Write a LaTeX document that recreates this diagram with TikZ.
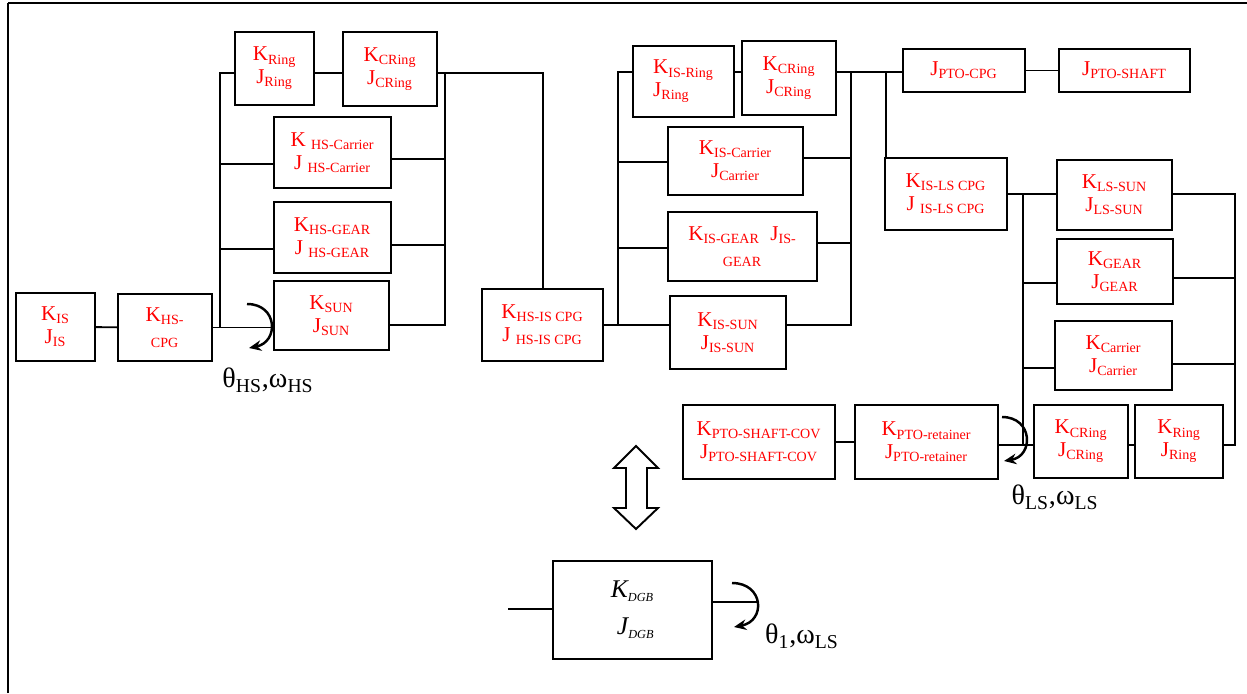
\documentclass[tikz,border=0pt]{standalone}
\usepackage{fontspec}
\setmainfont{Liberation Serif}
\usetikzlibrary{arrows.meta, calc}

\begin{document}
\begin{tikzpicture}[
    x=0.02cm, y=-0.02cm,
    blk/.style 2 args={rectangle, draw=black, line width=1.1pt, text=red,
                minimum width=#1*0.02cm, minimum height=#2*0.02cm, inner sep=0pt,
                align=center, font=\fontsize{12}{13}\selectfont},
    link/.style={line width=1.1pt},
    spin/.style={line width=1.4pt, -{Stealth[length=7pt,width=6pt]}},
    lbl/.style={font=\fontsize{16}{18}\selectfont}
]
    \useasboundingbox (0,0) rectangle (1247,693);
    % frame
    \draw[line width=1.5pt] (8,693) -- (8,3);
    \draw[line width=0.8pt] (8,3) -- (1247,3);

    % high-speed stage
    \node[blk={79}{68}] (is) at (55.5,327) {K\textsubscript{IS}\\J\textsubscript{IS}};
    \node[blk={94}{67}, align=left] (hscpg) at (165,327.5) {K\textsubscript{HS-}\\ \ \textsubscript{CPG}};
    \node[blk={79}{73}] (ring1) at (274.5,68.5) {K\textsubscript{Ring}\\J\textsubscript{Ring}};
    \node[blk={94}{74}] (cring1) at (390,69) {K\textsubscript{CRing}\\J\textsubscript{CRing}};
    \node[blk={117}{71}] (hscar) at (332.5,152.5) {K \textsubscript{HS-Carrier}\\J \textsubscript{HS-Carrier}};
    \node[blk={117}{71}] (hsgear) at (332.5,237.5) {K\textsubscript{HS-GEAR}\\J \textsubscript{HS-GEAR}};
    \node[blk={115}{69}] (hssun) at (331.5,315.5) {K\textsubscript{SUN}\\J\textsubscript{SUN}};

    % intermediate stage
    \node[blk={121}{72}] (hsis) at (542.5,325) {K\textsubscript{HS-IS CPG}\\J \textsubscript{HS-IS CPG}};
    \node[blk={101}{71}, align=left] (isring) at (683.5,81.5) {K\textsubscript{IS-Ring}\\J\textsubscript{Ring}};
    \node[blk={94}{74}] (cring2) at (789,78) {K\textsubscript{CRing}\\J\textsubscript{CRing}};
    \node[blk={135}{68}] (iscar) at (735.5,161) {K\textsubscript{IS-Carrier}\\J\textsubscript{Carrier}};
    \node[blk={149}{69}] (isgear) at (742.5,246.5) {K\textsubscript{IS-GEAR}\ \ J\textsubscript{IS-}\\ \textsubscript{GEAR}};
    \node[blk={116}{73}] (issun) at (728,332.5) {K\textsubscript{IS-SUN}\\J\textsubscript{IS-SUN}};

    % PTO side
    \node[blk={122}{43}] (ptocpg) at (964,70.5) {J\textsubscript{PTO-CPG}};
    \node[blk={131}{43}] (ptoshaft) at (1124.5,70.5) {J\textsubscript{PTO-SHAFT}};
    \node[blk={152}{74}] (ptocov) at (759,442) {K\textsubscript{PTO-SHAFT-COV}\\J\textsubscript{PTO-SHAFT-COV}};
    \node[blk={143}{74}] (ptoret) at (926.5,442) {K\textsubscript{PTO-retainer}\\J\textsubscript{PTO-retainer}};

    % low-speed stage
    \node[blk={122}{72}] (isls) at (946,194) {K\textsubscript{IS-LS CPG}\\J \textsubscript{IS-LS CPG}};
    \node[blk={115}{70}] (lssun) at (1114.5,195) {K\textsubscript{LS-SUN}\\J\textsubscript{LS-SUN}};
    \node[blk={116}{65}] (lsgear) at (1115,271.5) {K\textsubscript{GEAR}\\J\textsubscript{GEAR}};
    \node[blk={117}{69}] (lscar) at (1113.5,355.5) {K\textsubscript{Carrier}\\J\textsubscript{Carrier}};
    \node[blk={94}{73}] (cring3) at (1081,441.5) {K\textsubscript{CRing}\\J\textsubscript{CRing}};
    \node[blk={88}{73}] (ring3) at (1179,441.5) {K\textsubscript{Ring}\\J\textsubscript{Ring}};

    % lumped equivalent
    \node[blk={159}{98}, text=black, font=\fontsize{14.5}{21}\selectfont\itshape] (dgb) at (632.5,610)
        {K\textsubscript{\scriptsize DGB}\\\ J\textsubscript{\scriptsize DGB}};

    % high-speed connections
    \coordinate (hsA) at (220,73);
    \coordinate (hsB) at (220,327.5);
    \coordinate (hsC) at (445,73);
    \coordinate (hsD) at (445,325);
    \coordinate (hsE) at (543,73);
    \draw[link] (is) -- (hscpg);
    \draw[link] (hscpg.east) -- (hscpg.east -| hssun.west);
    \draw[link] (hsB) -- (hsA) -- (hsA -| ring1.west);
    \draw[link] (ring1.east |- hsA) -- (cring1.west |- hsA);
    \draw[link] (cring1.east |- hsA) -- (hsE) -- (hsE |- hsis.north);
    \draw[link] (hsC) -- (hsD) -- (hsD -| hssun.east);
    \foreach \n/\y in {hscar/164, hsgear/249}{
        \coordinate (tap-\n) at (220,\y);
        \draw[link] (tap-\n) -- (tap-\n -| \n.west);
    }
    \foreach \n/\y in {hscar/159, hsgear/245}{
        \coordinate (out-\n) at (445,\y);
        \draw[link] (out-\n -| \n.east) -- (out-\n);
    }

    % intermediate connections
    \coordinate (isA) at (618,72);
    \coordinate (isB) at (618,325);
    \coordinate (isC) at (851,72);
    \coordinate (isD) at (851,325);
    \draw[link] (hsis) -- (hsis -| issun.west);
    \draw[link] (isB) -- (isA) -- (isA -| isring.west);
    \draw[link] (isring.east |- isA) -- (cring2.west |- isA);
    \draw[link] (cring2.east |- isA) -- (isA -| ptocpg.west);
    \draw[link] (isC) -- (isD) -- (isD -| issun.east);
    \foreach \n/\y in {iscar/162, isgear/248}{
        \coordinate (tap-\n) at (618,\y);
        \draw[link] (tap-\n) -- (tap-\n -| \n.west);
    }
    \foreach \n/\y in {iscar/158, isgear/243}{
        \coordinate (out-\n) at (851,\y);
        \draw[link] (out-\n -| \n.east) -- (out-\n);
    }
    \draw[link] (ptocpg) -- (ptoshaft);
    \coordinate (lsA) at (886,72);
    \draw[link] (lsA) -- (lsA |- isls.north);

    % low-speed connections
    \coordinate (lsB) at (1023,194);
    \coordinate (lsC) at (1023,445);
    \coordinate (lsD) at (1235,194);
    \coordinate (lsE) at (1235,445);
    \draw[link] (isls) -- (isls -| lssun.west);
    \draw[link] (lsB) -- (lsC);
    \draw[link] (lssun.east |- lsD) -- (lsD) -- (lsE) -- (lsE -| ring3.east);
    \foreach \n/\y in {lsgear/283, lscar/368}{
        \coordinate (tap-\n) at (1023,\y);
        \draw[link] (tap-\n) -- (tap-\n -| \n.west);
    }
    \foreach \n/\y in {lsgear/278, lscar/364}{
        \coordinate (out-\n) at (1235,\y);
        \draw[link] (out-\n -| \n.east) -- (out-\n);
    }
    \draw[link] (ptoret.east |- lsE) -- (cring3.west |- lsE);
    \draw[link] (cring3.east |- lsE) -- (ring3.west |- lsE);
    \draw[link] (ptocov) -- (ptoret);

    % shafts of the lumped block
    \coordinate (dgbin) at (508,609);
    \coordinate (dgbout) at (757,602);
    \draw[link] (dgbin) -- (dgbin -| dgb.west);
    \draw[link] (dgb.east |- dgbout) -- (dgbout);

    % equivalence arrow
    \draw[line width=1.1pt, fill=white] (636,446) -- (658,468) -- (647,468) -- (647,508)
        -- (658,508) -- (636,529) -- (614,508) -- (626,508) -- (626,468) -- (614,468) -- cycle;

    % rotation arrows
    \draw[spin] (247,304) .. controls (278,304) and (279,342) .. (249,348);
    \draw[spin] (1002,417) .. controls (1033,417) and (1034,456) .. (1004,461);
    \draw[spin] (732,583) .. controls (764,583) and (766,621) .. (734,627);

    \node[lbl] (hslbl) at (268,380) {θ\textsubscript{HS},ω\textsubscript{HS}};
    \node[lbl] (lslbl) at (1055,497) {θ\textsubscript{LS},ω\textsubscript{LS}};
    \node[lbl] (dgblbl) at (802,636) {θ\textsubscript{1},ω\textsubscript{LS}};
\end{tikzpicture}
\end{document}
